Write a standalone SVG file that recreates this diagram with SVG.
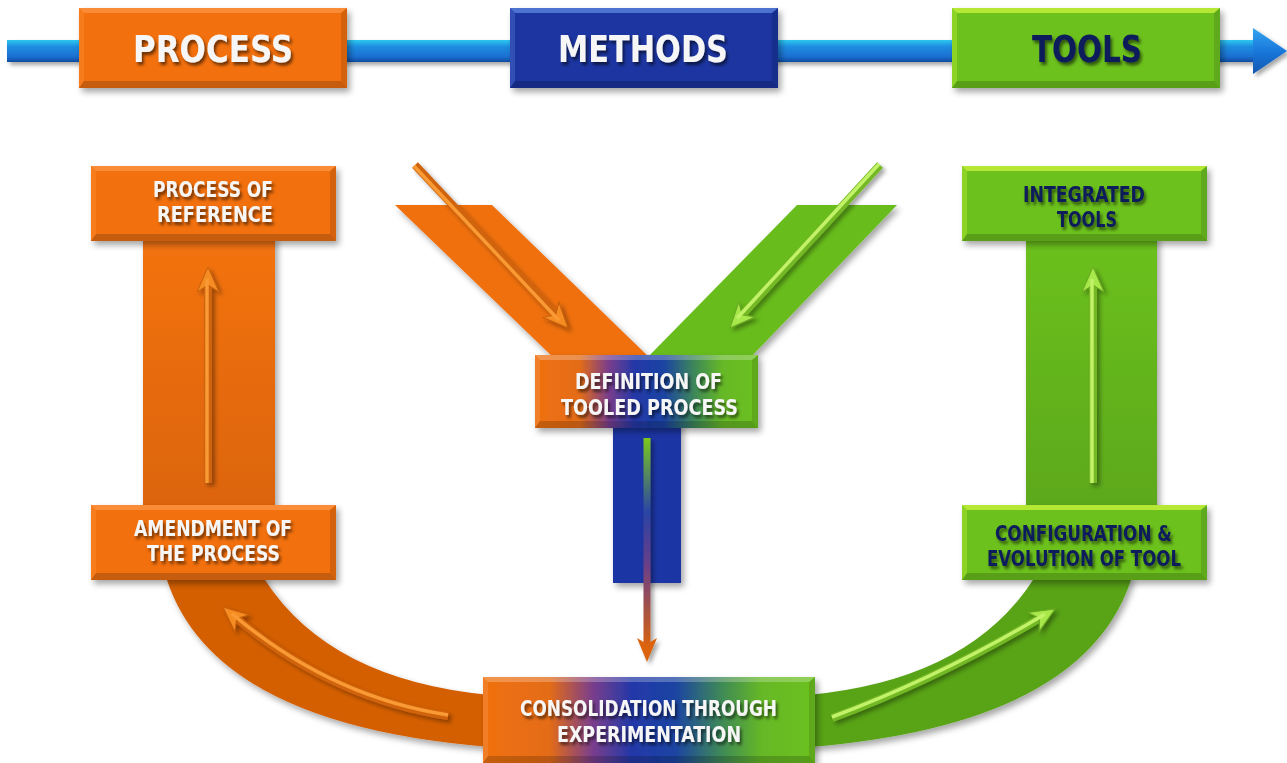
<svg xmlns="http://www.w3.org/2000/svg" xmlns:xlink="http://www.w3.org/1999/xlink" width="1287" height="763" viewBox="0 0 1287 763">
<defs>
<style>
.t{font-family:"DejaVu Sans Condensed","DejaVu Sans","Liberation Sans",sans-serif;font-weight:bold;fill:#f6f6f6;filter:url(#tsh)}
.big{font-size:38px}
.sm{font-size:21px}
.navy{fill:#0c1a5a}
.ob{stroke:#d0630c;stroke-width:8}
.oh{stroke:#f99a34;stroke-width:3.5}
.gb{stroke:#74b826;stroke-width:8}
.gh{stroke:#c2f268;stroke-width:3.5}
</style>
<filter id="sh" x="-10%" y="-10%" width="125%" height="130%">
<feDropShadow dx="3" dy="4" stdDeviation="3" flood-color="#000" flood-opacity="0.35"/>
</filter>
<filter id="tsh" x="-10%" y="-20%" width="125%" height="160%">
<feDropShadow dx="2" dy="3" stdDeviation="1.8" flood-color="#000" flood-opacity="0.55"/>
</filter>
<filter id="ash" x="-20%" y="-20%" width="140%" height="140%">
<feDropShadow dx="3" dy="3" stdDeviation="2" flood-color="#000" flood-opacity="0.35"/>
</filter>
<linearGradient id="barG" x1="0" y1="0" x2="0" y2="1">
<stop offset="0" stop-color="#2cc8f0"/>
<stop offset="0.3" stop-color="#1e8ee0"/>
<stop offset="0.75" stop-color="#1a6fd2"/>
<stop offset="1" stop-color="#0e4d9e"/>
</linearGradient>
<linearGradient id="headG" x1="0" y1="0" x2="0" y2="1">
<stop offset="0" stop-color="#35a6ee"/>
<stop offset="0.5" stop-color="#1a78dc"/>
<stop offset="1" stop-color="#1156b0"/>
</linearGradient>
<linearGradient id="mixG" x1="0" y1="0" x2="1" y2="0">
<stop offset="0" stop-color="#f07010"/>
<stop offset="0.2" stop-color="#e46c16"/>
<stop offset="0.33" stop-color="#7a3e8c"/>
<stop offset="0.45" stop-color="#2238a8"/>
<stop offset="0.58" stop-color="#1c44a2"/>
<stop offset="0.72" stop-color="#3f8a56"/>
<stop offset="0.84" stop-color="#66b826"/>
<stop offset="1" stop-color="#6cc11e"/>
</linearGradient>
<linearGradient id="obandG" x1="0" y1="0" x2="0" y2="1">
<stop offset="0" stop-color="#f37312"/>
<stop offset="1" stop-color="#dc6408"/>
</linearGradient>
<linearGradient id="gbandG" x1="0" y1="0" x2="0" y2="1">
<stop offset="0" stop-color="#6cc11e"/>
<stop offset="1" stop-color="#5ca81a"/>
</linearGradient>
<linearGradient id="midArrowG" gradientUnits="userSpaceOnUse" x1="0" y1="438" x2="0" y2="650">
<stop offset="0" stop-color="#7cc81e"/>
<stop offset="0.35" stop-color="#2a44a4"/>
<stop offset="0.6" stop-color="#6a3f88"/>
<stop offset="1" stop-color="#dc640a"/>
</linearGradient>
<marker id="mO" viewBox="-28 -14 30 28" refX="-12" refY="0" markerWidth="30" markerHeight="28" markerUnits="userSpaceOnUse" orient="auto">
<path d="M0,0 L-25,-11 L-18,0 L-25,11 Z" fill="#f58d24" stroke="#c65e0c" stroke-width="1"/>
</marker>
<marker id="mG" viewBox="-28 -14 30 28" refX="-12" refY="0" markerWidth="30" markerHeight="28" markerUnits="userSpaceOnUse" orient="auto">
<path d="M0,0 L-25,-11 L-18,0 L-25,11 Z" fill="#a8e84c" stroke="#6aa822" stroke-width="1"/>
</marker>
<marker id="mM" viewBox="-28 -14 30 28" refX="-12" refY="0" markerWidth="30" markerHeight="28" markerUnits="userSpaceOnUse" orient="auto">
<path d="M0,0 L-24,-10 L-18,0 L-24,10 Z" fill="#dc640a"/>
</marker>
<g id="bevA">
<polygon points="0,0 268,0 262,5 5,5" fill="currentColor"/>
<polygon points="0,0 5,5 5,73 0,80" fill="currentColor" opacity="0.45"/>
<polygon points="0,80 268,80 262,73 5,73" fill="#000" opacity="0.18"/>
<polygon points="268,0 268,80 262,73 262,5" fill="#000" opacity="0.12"/>
</g>
<g id="bevB">
<polygon points="0,0 245,0 239,5 5,5" fill="currentColor"/>
<polygon points="0,0 5,5 5,68 0,75" fill="currentColor" opacity="0.45"/>
<polygon points="0,75 245,75 239,68 5,68" fill="#000" opacity="0.18"/>
<polygon points="245,0 245,75 239,68 239,5" fill="#000" opacity="0.12"/>
</g>
<g id="bevC">
<polygon points="0,0 223,0 217,5 5,5" fill="#fff" opacity="0.25"/>
<polygon points="0,0 5,5 5,66 0,73" fill="#fff" opacity="0.1"/>
<polygon points="0,73 223,73 217,66 5,66" fill="#000" opacity="0.18"/>
<polygon points="223,0 223,73 217,66 217,5" fill="#000" opacity="0.12"/>
</g>
<g id="bevD">
<polygon points="0,0 332,0 326,5 5,5" fill="#fff" opacity="0.25"/>
<polygon points="0,0 5,5 5,79 0,86" fill="#fff" opacity="0.1"/>
<polygon points="0,86 332,86 326,79 5,79" fill="#000" opacity="0.18"/>
<polygon points="332,0 332,86 326,79 326,5" fill="#000" opacity="0.12"/>
</g>
</defs>

<rect width="1287" height="763" fill="#ffffff"/>

<g id="connectors">
<g id="timeline" filter="url(#ash)">
<rect x="7" y="40" width="1250" height="22" fill="url(#barG)"/>
<polygon points="1253,28 1287,51 1253,74" fill="url(#headG)"/>
</g>
<g filter="url(#sh)">
<rect x="143" y="236" width="132" height="274" fill="url(#obandG)"/>
<rect x="1026" y="236" width="131" height="274" fill="url(#gbandG)"/>
<path d="M167,575 L167,580 Q215,725 490,747 L490,695 Q330,680 265,580 L265,575 Z" fill="#d45f05"/>
<path d="M1131,575 L1131,580 Q1083,725 808,747 L808,695 Q968,680 1033,580 L1033,575 Z" fill="#58a318"/>
<polygon points="395,205 492,205 652,360 556,360" fill="#ef6f0c"/>
<polygon points="797,205 897,205 748,360 645,360" fill="#67bc1d"/>
<rect x="613" y="420" width="68" height="163" fill="#1b34a4"/>
</g>
<g filter="url(#ash)" fill="none" stroke-linecap="butt">
<path class="ob" d="M415,165 L559.8,319.3" marker-end="url(#mO)"/>
<path class="oh" d="M414,166 L558.8,320.3"/>
<path class="gb" d="M880,165 L738.1,319.2" marker-end="url(#mG)"/>
<path class="gh" d="M879,164 L737.1,318.2"/>
<path class="ob" d="M208,483 L208,279" marker-end="url(#mO)"/>
<path class="oh" d="M207,483 L207,279"/>
<path class="gb" d="M1093,483 L1093,279" marker-end="url(#mG)"/>
<path class="gh" d="M1092,483 L1092,279"/>
<path class="ob" d="M448,716 Q330,698 232.1,614.8" marker-end="url(#mO)"/>
<path class="oh" d="M448,715 Q330,697 232.1,613.8"/>
<path class="gb" d="M832,718 Q942,677 1044.7,615.2" marker-end="url(#mG)"/>
<path class="gh" d="M832,717 Q942,676 1044.7,614.2"/>
<path d="M647,438 L647,650" stroke="url(#midArrowG)" stroke-width="7" marker-end="url(#mM)"/>
</g>
</g>

<g id="node-process" filter="url(#sh)">
<rect x="79" y="8" width="268" height="80" fill="#f2700c"/>
<use href="#bevA" x="79" y="8" color="#fa8c38"/>
</g>
<text class="t big" x="133" y="62" textLength="160" lengthAdjust="spacingAndGlyphs">PROCESS</text>

<g id="node-methods" filter="url(#sh)">
<rect x="510" y="8" width="268" height="80" fill="#1a34a0"/>
<use href="#bevA" x="510" y="8" color="#4d72cf"/>
</g>
<text class="t big" x="558" y="62" textLength="170" lengthAdjust="spacingAndGlyphs">METHODS</text>

<g id="node-tools" filter="url(#sh)">
<rect x="952" y="8" width="268" height="80" fill="#6cc11e"/>
<use href="#bevA" x="952" y="8" color="#b4e836"/>
</g>
<text class="t big navy" x="1032" y="62" textLength="110" lengthAdjust="spacingAndGlyphs">TOOLS</text>

<g id="node-process-of-reference" filter="url(#sh)">
<rect x="91" y="166" width="245" height="75" fill="#f2700c"/>
<use href="#bevB" x="91" y="166" color="#fa8c38"/>
</g>
<text class="t sm" x="153" y="197" textLength="120" lengthAdjust="spacingAndGlyphs">PROCESS OF</text>
<text class="t sm" x="157" y="222" textLength="116" lengthAdjust="spacingAndGlyphs">REFERENCE</text>

<g id="node-amendment" filter="url(#sh)">
<rect x="91" y="505" width="245" height="75" fill="#f2700c"/>
<use href="#bevB" x="91" y="505" color="#fa8c38"/>
</g>
<text class="t sm" x="134" y="536" textLength="158" lengthAdjust="spacingAndGlyphs">AMENDMENT OF</text>
<text class="t sm" x="147" y="561" textLength="133" lengthAdjust="spacingAndGlyphs">THE PROCESS</text>

<g id="node-integrated-tools" filter="url(#sh)">
<rect x="962" y="166" width="245" height="75" fill="#6cc11e"/>
<use href="#bevB" x="962" y="166" color="#b4e836"/>
</g>
<text class="t sm navy" x="1023" y="202" textLength="122" lengthAdjust="spacingAndGlyphs">INTEGRATED</text>
<text class="t sm navy" x="1057" y="227" textLength="60" lengthAdjust="spacingAndGlyphs">TOOLS</text>

<g id="node-configuration" filter="url(#sh)">
<rect x="962" y="505" width="245" height="75" fill="#6cc11e"/>
<use href="#bevB" x="962" y="505" color="#b4e836"/>
</g>
<text class="t sm navy" x="995" y="541" textLength="177" lengthAdjust="spacingAndGlyphs">CONFIGURATION &amp;</text>
<text class="t sm navy" x="987" y="566" textLength="194" lengthAdjust="spacingAndGlyphs">EVOLUTION OF TOOL</text>

<g id="node-definition" filter="url(#sh)">
<rect x="535" y="355" width="223" height="73" fill="url(#mixG)"/>
<use href="#bevC" x="535" y="355"/>
</g>
<text class="t sm" x="575" y="389" textLength="147" lengthAdjust="spacingAndGlyphs">DEFINITION OF</text>
<text class="t sm" x="561" y="415" textLength="177" lengthAdjust="spacingAndGlyphs">TOOLED PROCESS</text>

<g id="node-consolidation" filter="url(#sh)">
<rect x="483" y="677" width="332" height="86" fill="url(#mixG)"/>
<use href="#bevD" x="483" y="677"/>
</g>
<text class="t sm" x="520" y="716" textLength="257" lengthAdjust="spacingAndGlyphs">CONSOLIDATION THROUGH</text>
<text class="t sm" x="557" y="742" textLength="184" lengthAdjust="spacingAndGlyphs">EXPERIMENTATION</text>
</svg>
